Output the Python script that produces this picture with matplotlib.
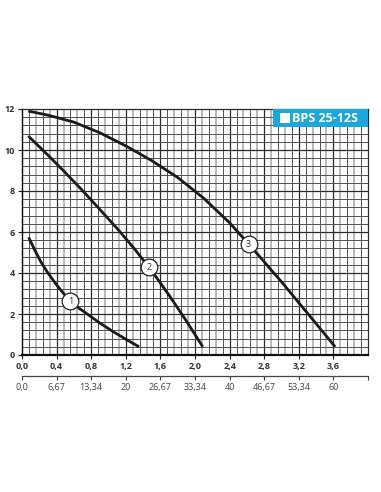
import matplotlib
matplotlib.use("Agg")
import matplotlib.pyplot as plt
import numpy as np
from matplotlib.patches import Rectangle

# Data
curve1_x = [0.077, 0.15, 0.22, 0.30, 0.40, 0.50, 0.60, 0.754, 0.90, 1.05, 1.20, 1.353]
curve1_y = [5.74, 5.10, 4.53, 4.00, 3.42, 2.90, 2.46, 2.00, 1.56, 1.15, 0.77, 0.40]
curve2_x = [0.073, 0.3, 0.5, 0.7, 0.9, 1.1, 1.3, 1.5, 1.7, 1.9, 2.09]
curve2_y = [10.68, 9.75, 8.90, 8.02, 7.10, 6.17, 5.18, 4.10, 2.92, 1.66, 0.40]
curve3_x = [0.073, 0.3, 0.6, 0.9, 1.2, 1.5, 1.8, 2.1, 2.4, 2.7, 3.0, 3.3, 3.62]
curve3_y = [11.90, 11.70, 11.36, 10.84, 10.20, 9.48, 8.66, 7.65, 6.45, 5.03, 3.57, 2.04, 0.40]
labels_pos = {"1": (0.56, 2.63), "2": (1.465, 4.28), "3": (2.62, 5.41)}

x_ticks = [0.0, 0.4, 0.8, 1.2, 1.6, 2.0, 2.4, 2.8, 3.2, 3.6]
x_ticklabels = ["0,0", "0,4", "0,8", "1,2", "1,6", "2,0", "2,4", "2,8", "3,2", "3,6"]
y_ticks = [0, 2, 4, 6, 8, 10, 12]
sec_ticks = [0.0, 0.4, 0.8, 1.2, 1.6, 2.0, 2.4, 2.8, 3.2, 3.6, 4.0]
sec_ticklabels = ["0,0", "6,67", "13,34", "20", "26,67", "33,34", "40", "46,67", "53,34", "60", ""]
title = "BPS 25-12S"

plt.rcParams['font.family'] = ['Open Sans', 'DejaVu Sans']

fig = plt.figure(figsize=(3.81, 4.92), dpi=100)
ax = fig.add_axes([22/381, 137/492, 346/381, 246/492])
ax.set_xlim(0, 4.0)
ax.set_ylim(0, 12)

# grid
for i, xv in enumerate(np.arange(0.08, 4.0, 0.08)):
    if abs(xv / 0.4 - round(xv / 0.4)) < 1e-6:
        ax.axvline(xv, color="#2a2a2a", lw=0.9, zorder=1)
    elif i % 2 == 0:
        ax.axvline(xv, color="#505050", lw=0.7, zorder=1)
    else:
        ax.axvline(xv, color="#a8a8a8", lw=1.1, zorder=1)
for yv in np.arange(0.4, 12.0, 0.4):
    if abs(yv / 2 - round(yv / 2)) < 1e-6:
        ax.axhline(yv, color="#2a2a2a", lw=0.9, zorder=1)
    else:
        ax.axhline(yv, color="#505050", lw=0.7, zorder=1)

for s in ["top", "right"]:
    ax.spines[s].set_color("#2a2a2a")
    ax.spines[s].set_linewidth(0.9)
ax.spines["left"].set_linewidth(1.0)
ax.spines["bottom"].set_linewidth(1.6)
ax.spines["bottom"].set_color("#111111")

for cx, cy in [(curve1_x, curve1_y), (curve2_x, curve2_y), (curve3_x, curve3_y)]:
    ax.plot(cx, cy, color="#1a1a1a", lw=2.0, solid_capstyle="butt",
            solid_joinstyle="round", zorder=3)

for lab, (lx, ly) in labels_pos.items():
    ax.plot(lx, ly, marker="o", ms=12, mfc="white", mec="#222222", mew=0.9, zorder=4)
    ax.text(lx, ly, lab, ha="center", va="center", fontsize=6.5, color="#333333", zorder=5)

ax.set_xticks(x_ticks)
ax.set_xticklabels(x_ticklabels, fontsize=6.5, fontweight="bold", color="#333333")
ax.set_yticks(y_ticks)
ax.set_yticklabels([str(v) for v in y_ticks], fontsize=6.5, fontweight="bold", color="#333333")
ax.tick_params(axis="both", length=3, width=0.8, pad=2, color="#222222")

sec = ax.secondary_xaxis(-21/246)
sec.set_xticks(sec_ticks)
sec.set_xticklabels(sec_ticklabels, fontsize=6.5, color="#444444")
sec.tick_params(length=3, width=0.8, pad=2, color="#444444")
sec.spines["bottom"].set_color("#444444")
sec.spines["bottom"].set_linewidth(0.9)

# title box
fig.patches.append(Rectangle((273/381, 1 - 127/492), 95/381, 18/492, transform=fig.transFigure,
                             facecolor="#1aa7df", edgecolor="none", zorder=10))
fig.patches.append(Rectangle((280/381, 1 - 123/492), 10/381, 10/492, transform=fig.transFigure,
                             facecolor="white", edgecolor="none", zorder=11))
fig.text(292/381, 1 - 118/492, title, ha="left", va="center", fontsize=9, fontweight="bold",
         color="white", zorder=12)

fig.savefig("out.png", dpi=100)
